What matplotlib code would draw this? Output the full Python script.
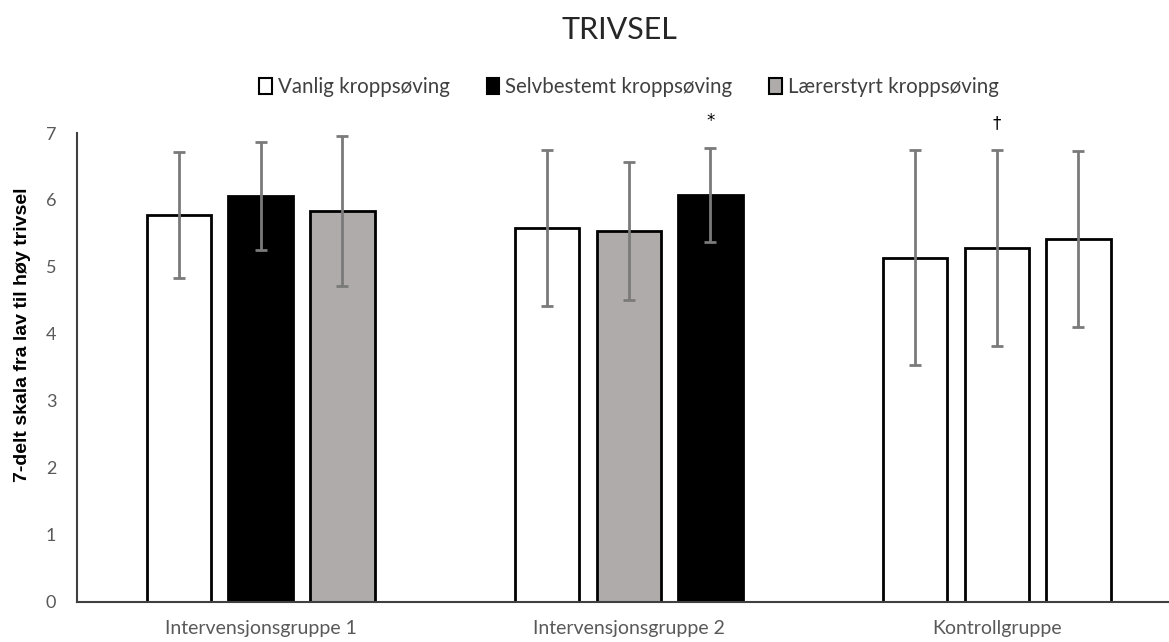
import matplotlib.pyplot as plt
import numpy as np
from matplotlib.patches import Patch

# Gjennomsnitt og standardavvik per gruppe (tre søyler i hver gruppe)
groups = ['Intervensjonsgruppe 1', 'Intervensjonsgruppe 2', 'Kontrollgruppe']
means = [[5.77, 6.06, 5.84],
         [5.58, 5.53, 6.07],
         [5.14, 5.28, 5.42]]
sds = [[0.94, 0.80, 1.12],
       [1.16, 1.03, 0.70],
       [1.60, 1.46, 1.31]]
# hvilken type kroppsøving hver søyle viser
kinds = [['Vanlig', 'Selvbestemt', 'Lærerstyrt'],
         ['Vanlig', 'Lærerstyrt', 'Selvbestemt'],
         ['Vanlig', 'Vanlig', 'Vanlig']]
marks = [['', '', ''],
         ['', '', '*'],
         ['', '†', '']]

legend_labels = ['Vanlig kroppsøving', 'Selvbestemt kroppsøving', 'Lærerstyrt kroppsøving']
fill = {'Vanlig': 'white', 'Selvbestemt': 'black', 'Lærerstyrt': '#aeabaa'}

plt.rcParams['font.family'] = ['Lato', 'DejaVu Sans']

fig = plt.figure(figsize=(11.69, 6.42), dpi=100)
ax = fig.add_axes([0.0659, 0.0628, 0.9341, 0.730])

width = 0.175
step = 0.222
x = np.arange(len(groups))

for i in range(3):
    pos = x + (i - 1) * step
    vals = [m[i] for m in means]
    errs = [s[i] for s in sds]
    cols = [fill[k[i]] for k in kinds]
    ax.bar(pos, vals, width=width, color=cols, edgecolor='black', linewidth=2, zorder=2)
    ax.errorbar(pos, vals, yerr=errs, fmt='none', ecolor='#7a7a7a', elinewidth=2,
                capsize=4.5, capthick=2, zorder=3)
    for p, v, e, g in zip(pos, vals, errs, marks):
        if g[i]:
            ax.annotate(g[i], xy=(p, v + e), xytext=(0, 20), textcoords='offset points',
                        ha='center', va='center', fontsize=12, color='black',
                        family=['DejaVu Sans'])

ax.set_xlim(-0.499, 2.468)
ax.set_ylim(0, 7)
ax.set_yticks(range(0, 8))
ax.set_xticks(x)
ax.set_xticklabels(groups)
ax.tick_params(length=0, colors='#595959')
ax.tick_params(axis='y', pad=15, labelsize=13)
ax.tick_params(axis='x', pad=13, labelsize=14)
for s in ['top', 'right']:
    ax.spines[s].set_visible(False)
for s in ['left', 'bottom']:
    ax.spines[s].set_color('#404040')
    ax.spines[s].set_linewidth(1.5)

fig.text(0.019, 0.478, '7-delt skala fra lav til høy trivsel', rotation=90,
         ha='center', va='center', fontsize=14, fontweight='bold',
         family=['Liberation Sans', 'DejaVu Sans'])

fig.text(0.53, 0.939, 'TRIVSEL', ha='center', va='baseline', fontsize=22, color='#262626')

handles = [Patch(facecolor=fill[k], edgecolor='black', linewidth=1.5)
           for k in ['Vanlig', 'Selvbestemt', 'Lærerstyrt']]
leg = fig.legend(handles, legend_labels, loc='center', bbox_to_anchor=(0.538, 0.864),
                 ncol=3, frameon=False, fontsize=14.8, handlelength=0.6, handleheight=0.85,
                 handletextpad=0.3, columnspacing=1.8)
for t in leg.get_texts():
    t.set_color('#404040')

fig.savefig('out.png', dpi=100)
